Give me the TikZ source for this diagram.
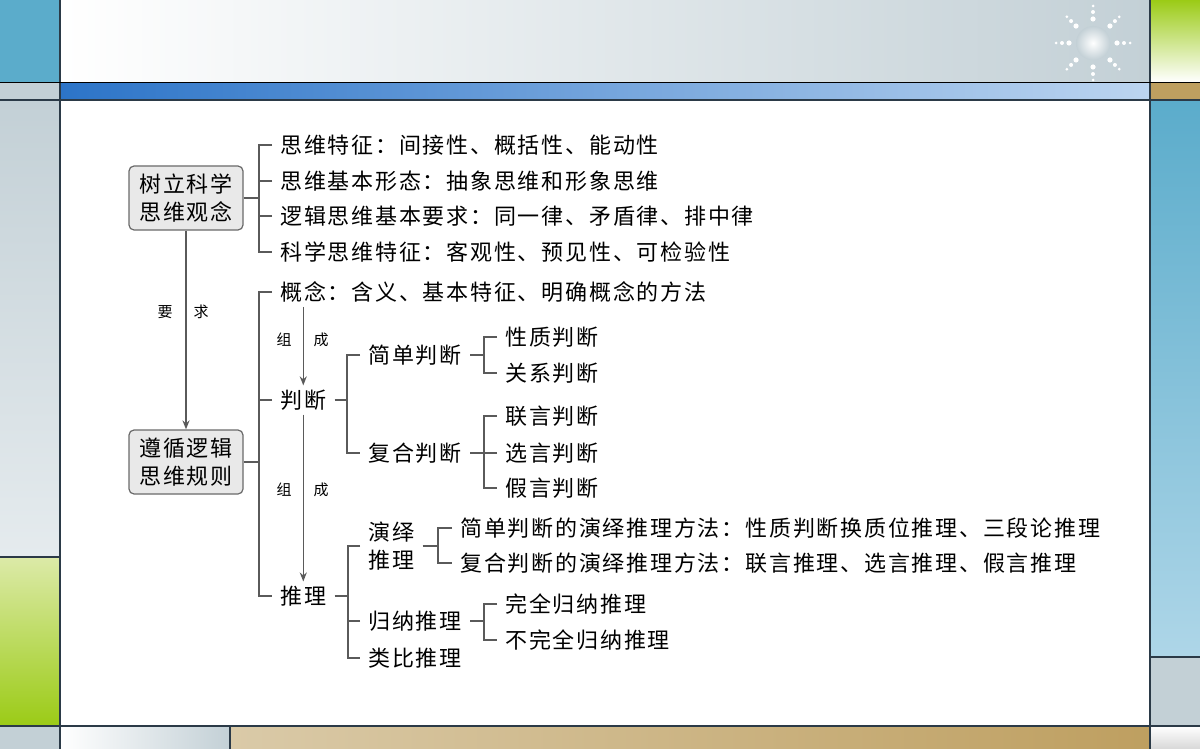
\documentclass[tikz,border=0pt]{standalone}
\usepackage{fontspec}
\usepackage{tikz}
\usetikzlibrary{arrows.meta, positioning}

\newfontfamily\cjk[LetterSpace=8]{Noto Sans CJK SC}
\newfontfamily\cjksmall{Noto Sans CJK SC}

\definecolor{frgray}{HTML}{C3D0D6}
\definecolor{frgraylt}{HTML}{E5EBEE}
\definecolor{frblue}{HTML}{5BACCB}
\definecolor{frbluelt}{HTML}{AED6E8}
\definecolor{barblue}{HTML}{2C74C8}
\definecolor{barbluelt}{HTML}{BCD5F0}
\definecolor{frline}{HTML}{2B3A47}
\definecolor{frgreen}{HTML}{9BCB16}
\definecolor{frgreenlt}{HTML}{DCEAA8}
\definecolor{frtan}{HTML}{BE9F60}
\definecolor{frtanlt}{HTML}{DACAA8}
\definecolor{cornergray}{HTML}{D8D8D8}
\definecolor{linegray}{HTML}{5A5A5A}
\definecolor{boxfill}{HTML}{E9E9E9}
\definecolor{boxline}{HTML}{6A6A6A}

\begin{document}
\begin{tikzpicture}[x=0.5pt, y=-0.5pt,
  conn/.style={draw=linegray, line width=0.75pt},
  arr/.style={conn, -{Stealth[length=4.5pt, width=3.5pt]}},
  box/.style={draw=boxline, fill=boxfill, rounded corners=2.5pt, line width=0.6pt,
    minimum width=57pt, minimum height=32pt, align=center, inner sep=0pt,
    font=\cjk\fontsize{11}{14}\selectfont},
  item/.style={anchor=west, inner xsep=4pt, inner ysep=2pt,
    font=\cjk\fontsize{11}{14}\selectfont},
  lbl/.style={inner sep=0pt, font=\cjksmall\fontsize{7.5}{8}\selectfont},
  frame/.style={draw=frline, line width=0.6pt}]
  \useasboundingbox (0,0) rectangle (1200,749);

  % slide frame
  \fill[white] (0,0) rectangle (1200,749);
  \shade[left color=white, middle color=frgray!30, right color=frgray] (60,0) rectangle (1150,82);
  \fill[frblue] (0,0) rectangle (60,82);
  \shade[top color=frgreen, middle color=frgreen!15!white, bottom color=white] (1150,0) rectangle (1200,82);
  \shade[left color=barblue, right color=barbluelt] (60,83) rectangle (1150,100);
  \fill[frgray] (0,83) rectangle (60,100);
  \fill[frtan] (1150,83) rectangle (1200,100);
  \shade[top color=frgray, bottom color=frgraylt] (0,100) rectangle (60,557);
  \shade[top color=frgreenlt, bottom color=frgreen] (0,557) rectangle (60,726);
  \shade[top color=frblue, bottom color=frbluelt] (1150,100) rectangle (1200,657);
  \fill[frgray] (1150,657) rectangle (1200,726);
  \fill[frgray] (0,726) rectangle (60,749);
  \shade[left color=white, right color=frgray] (60,726) rectangle (230,749);
  \shade[left color=frtanlt, right color=frtan] (230,726) rectangle (1150,749);
  \shade[top color=white, bottom color=cornergray] (1150,726) rectangle (1200,749);
  \draw[frame] (60,0) -- (60,749);
  \draw[frame] (1150,0) -- (1150,749);
  \draw[frame, draw=black, line width=0.9pt] (0,82.5) -- (1200,82.5);
  \draw[frame] (0,100) -- (1200,100);
  \draw[frame] (0,726) -- (1200,726);
  \draw[frame] (0,557) -- (60,557);
  \draw[frame] (1150,657) -- (1200,657);
  \draw[frame] (230,726) -- (230,749);

  % sparkle
  \shade[inner color=white, outer color=frgray] (1093,43) circle (17);
  \foreach \a in {0,45,...,315} {
    \fill[white] (1093,43) ++(\a:24) circle (2.6);
    \fill[white] (1093,43) ++(\a:31) circle (2);
    \fill[white] (1093,43) ++(\a:37) circle (1.5);
  }

  % main boxes
  \node[box] (b1) at (186,198) {树立科学\\思维观念};
  \node[box] (b2) at (186,462) {遵循逻辑\\思维规则};
  \draw[arr] (b1.south) -- (b2.north);
  \node[lbl] (yao) at (165,312) {要};
  \node[lbl] (qiu) at (201,312) {求};

  % first group
  \coordinate (v1) at (259,198);
  \node[item] (t1) at (272,145) {思维特征：间接性、概括性、能动性};
  \node[item] (t2) at (272,181) {思维基本形态：抽象思维和形象思维};
  \node[item] (t3) at (272,216) {逻辑思维基本要求：同一律、矛盾律、排中律};
  \node[item] (t4) at (272,252) {科学思维特征：客观性、预见性、可检验性};
  \draw[conn] (b1.east) -- (v1);
  \draw[conn] (t1.west) -| (v1) |- (t4.west);
  \draw[conn] (t2.west) -- (v1 |- t2.west);
  \draw[conn] (t3.west) -- (v1 |- t3.west);

  % second group
  \coordinate (v2) at (259,462);
  \node[item] (gn) at (272,292) {概念：含义、基本特征、明确概念的方法};
  \node[item] (pd) at (272,400) {判断};
  \node[item] (tl) at (272,596) {推理};
  \draw[conn] (b2.east) -- (v2);
  \draw[conn] (gn.west) -| (v2) |- (tl.west);
  \draw[conn] (pd.west) -- (v2 |- pd.west);
  \draw[arr] (pd.north |- gn.south) -- (pd.north);
  \draw[arr] (pd.south) -- (tl.north);
  \node[lbl] (zu1) at (284,340) {组};
  \node[lbl] (ch1) at (321,340) {成};
  \node[lbl] (zu2) at (284,490) {组};
  \node[lbl] (ch2) at (321,490) {成};

  % judgements
  \coordinate (v3) at (347,400);
  \node[item] (jd) at (360,355) {简单判断};
  \node[item] (fh) at (360,453) {复合判断};
  \draw[conn] (pd.east) -- (v3);
  \draw[conn] (jd.west) -| (v3) |- (fh.west);

  \coordinate (v4) at (484,355);
  \node[item] (xz) at (497,337) {性质判断};
  \node[item] (gx) at (497,373) {关系判断};
  \draw[conn] (jd.east) -- (v4);
  \draw[conn] (xz.west) -| (v4) |- (gx.west);

  \coordinate (v5) at (484,453);
  \node[item] (ly) at (497,416) {联言判断};
  \node[item] (xy) at (497,453) {选言判断};
  \node[item] (jy) at (497,488) {假言判断};
  \draw[conn] (fh.east) -- (v5);
  \draw[conn] (ly.west) -| (v5) |- (jy.west);
  \draw[conn] (xy.west) -- (v5);

  % reasoning
  \coordinate (v6) at (348,596);
  \node[item, align=left] (yy) at (360,546) {演绎\\推理};
  \node[item] (gl) at (360,621) {归纳推理};
  \node[item] (lb) at (360,658) {类比推理};
  \draw[conn] (tl.east) -- (v6);
  \draw[conn] (yy.west) -| (v6) |- (lb.west);
  \draw[conn] (gl.west) -- (v6 |- gl.west);

  \coordinate (v7) at (438,546);
  \node[item] (s1) at (452,528) {简单判断的演绎推理方法：性质判断换质位推理、三段论推理};
  \node[item] (s2) at (452,563) {复合判断的演绎推理方法：联言推理、选言推理、假言推理};
  \draw[conn] (yy.east) -- (v7);
  \draw[conn] (s1.west) -| (v7) |- (s2.west);

  \coordinate (v8) at (484,621);
  \node[item] (wq) at (497,604) {完全归纳推理};
  \node[item] (bw) at (497,640) {不完全归纳推理};
  \draw[conn] (gl.east) -- (v8);
  \draw[conn] (wq.west) -| (v8) |- (bw.west);
\end{tikzpicture}
\end{document}
